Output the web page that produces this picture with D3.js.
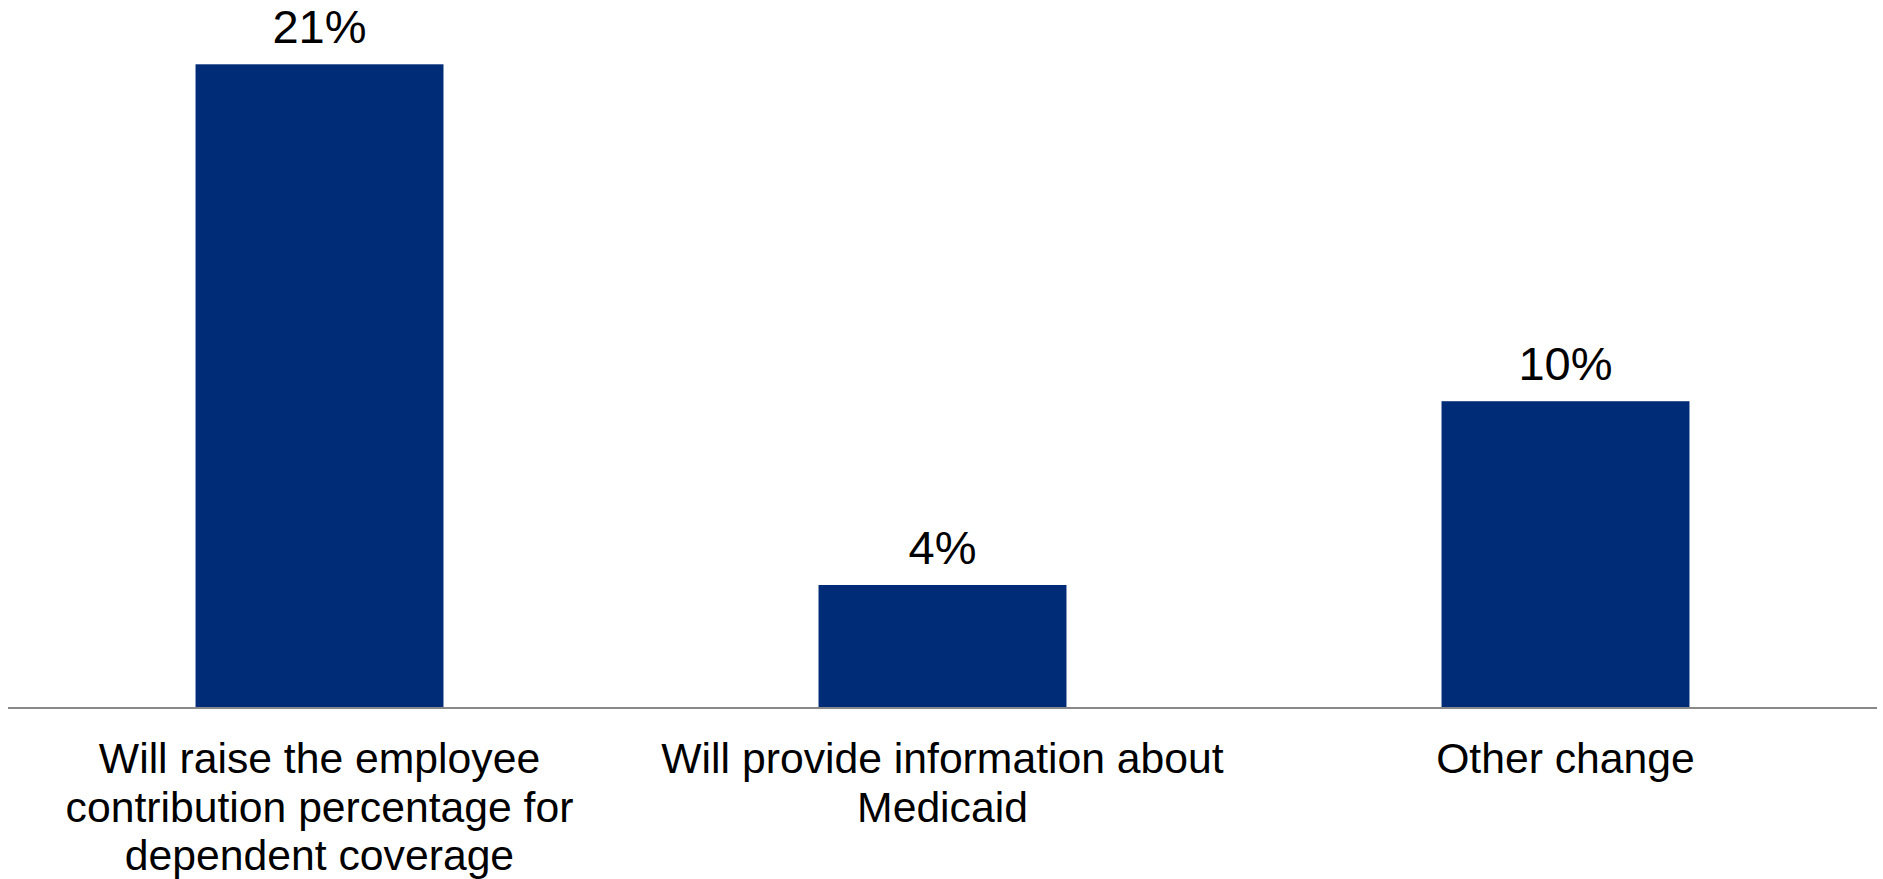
<!DOCTYPE html>
<html>
<head>
<meta charset="utf-8">
<script src="https://cdn.jsdelivr.net/npm/d3@7"></script>
<style>
  html, body { margin: 0; padding: 0; background: #ffffff; }
  svg { display: block; }
</style>
</head>
<body>
<svg id="chart" width="1883" height="879"></svg>
<script>
// Planned employer changes to dependent coverage (share of employers)
const categories = [
  ["Will raise the employee", "contribution percentage for", "dependent coverage"],
  ["Will provide information about", "Medicaid"],
  ["Other change"]
];
const categoryKeys = ["raise", "medicaid", "other"];
const values = [21, 4, 10];
const valueLabels = ["21%", "4%", "10%"];

const width = 1883, height = 879;
const svg = d3.select("#chart");

const x = d3.scaleBand()
  .domain(categoryKeys)
  .range([8, 1877])
  .paddingInner(0.602)
  .paddingOuter(0.301);

const y = d3.scaleLinear()
  .domain([0, 21])
  .range([707.5, 64.3]);

const font = "'Liberation Sans', Arial, Helvetica, sans-serif";

// Bars
svg.append("g")
  .selectAll("rect")
  .data(values)
  .join("rect")
  .attr("x", (d, i) => x(categoryKeys[i]))
  .attr("y", d => y(d))
  .attr("width", x.bandwidth())
  .attr("height", d => y(0) - y(d))
  .attr("fill", "#002C77");

// Baseline axis
svg.append("line")
  .attr("x1", x.range()[0])
  .attr("x2", x.range()[1])
  .attr("y1", y(0) + 0.5)
  .attr("y2", y(0) + 0.5)
  .attr("stroke", "#898989")
  .attr("stroke-width", 2);

// Value labels above bars
svg.append("g")
  .selectAll("text")
  .data(values)
  .join("text")
  .attr("x", (d, i) => x(categoryKeys[i]) + x.bandwidth() / 2)
  .attr("y", d => y(d) - 21)
  .attr("text-anchor", "middle")
  .attr("font-family", font)
  .attr("font-size", 47)
  .attr("fill", "#000000")
  .text((d, i) => valueLabels[i]);

// Category labels under the axis
const cat = svg.append("g")
  .selectAll("text")
  .data(categories)
  .join("text")
  .attr("x", (d, i) => x(categoryKeys[i]) + x.bandwidth() / 2)
  .attr("y", 773)
  .attr("text-anchor", "middle")
  .attr("font-family", font)
  .attr("font-size", 42.7)
  .attr("fill", "#000000");

cat.selectAll("tspan")
  .data(d => d)
  .join("tspan")
  .attr("x", function () { return d3.select(this.parentNode).attr("x"); })
  .attr("dy", (d, i) => i === 0 ? 0 : 48.7)
  .text(d => d);
</script>
</body>
</html>
